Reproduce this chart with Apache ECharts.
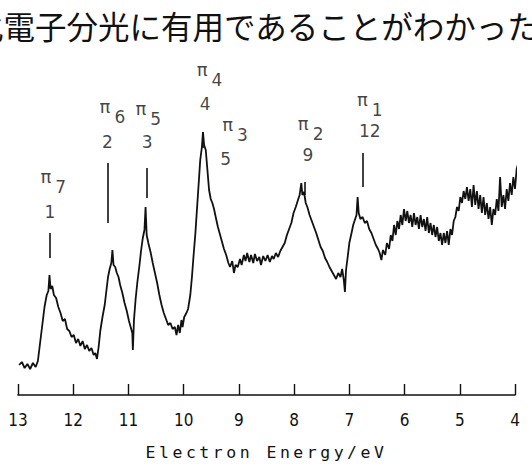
<!DOCTYPE html>
<html>
<head>
<meta charset="utf-8">
<script src="https://cdn.jsdelivr.net/npm/echarts@6/dist/echarts.min.js"></script>
<style>
html,body{margin:0;padding:0;background:#fff;}
#chart{width:532px;height:467px;}
</style>
</head>
<body>
<div id="chart"></div>
<script>
// Axis ticks (eV)
const energyTicks = [13, 12, 11, 10, 9, 8, 7, 6, 5, 4];
const axisTitle = 'Electron Energy/eV';
const headerText = '化電子分光に有用であることがわかった';

// Spectrum: [electron energy (eV), intensity (arb. units)]
const spectrum = [
  [12.98,30],[12.93,33],[12.88,27],[12.83,31],[12.78,26],[12.73,32],[12.68,28],[12.64,34],
  [12.60,52],[12.56,70],[12.52,88],[12.48,100],[12.45,104],[12.43,120],[12.41,106],[12.38,109],
  [12.35,100],[12.31,97],[12.27,88],[12.23,82],[12.19,74],[12.15,76],[12.11,66],[12.07,64],
  [12.03,58],[11.99,60],[11.95,52],[11.91,56],[11.87,49],[11.83,54],[11.79,46],[11.75,50],
  [11.71,44],[11.67,47],[11.63,40],[11.60,42],[11.57,36],[11.54,48],[11.51,64],[11.47,78],
  [11.43,90],[11.40,104],[11.37,118],[11.34,126],[11.31,132],[11.29,145],[11.27,130],[11.24,128],
  [11.21,122],[11.18,118],[11.15,110],[11.11,102],[11.07,92],[11.03,84],[10.99,74],[10.96,68],
  [10.93,62],[10.92,45],[10.90,75],[10.87,96],[10.84,112],[10.80,130],[10.77,145],[10.74,157],
  [10.71,165],[10.69,188],[10.67,160],[10.64,152],[10.60,143],[10.56,132],[10.52,122],[10.48,112],
  [10.44,100],[10.40,90],[10.36,82],[10.32,76],[10.28,70],[10.24,72],[10.20,66],[10.16,68],
  [10.13,60],[10.10,70],[10.07,62],[10.04,75],[10.02,68],[9.99,78],[9.95,82],[9.92,86],
  [9.88,100],[9.85,118],[9.82,140],[9.79,160],[9.76,185],[9.73,210],[9.70,235],[9.67,248],
  [9.65,263],[9.63,250],[9.60,245],[9.57,225],[9.54,205],[9.51,196],[9.48,192],[9.45,186],
  [9.42,178],[9.38,168],[9.35,162],[9.31,154],[9.27,146],[9.23,140],[9.19,132],[9.16,128],
  [9.12,134],[9.09,122],[9.06,130],[9.02,128],[8.98,136],[8.95,130],[8.91,140],[8.88,134],
  [8.85,142],[8.81,133],[8.78,140],[8.74,132],[8.71,141],[8.67,134],[8.63,138],[8.60,130],
  [8.56,139],[8.52,134],[8.48,140],[8.44,133],[8.40,139],[8.37,136],[8.33,142],[8.29,138],
  [8.25,144],[8.21,148],[8.17,152],[8.13,160],[8.09,166],[8.05,172],[8.01,182],[7.97,188],
  [7.93,195],[7.90,200],[7.87,212],[7.85,200],[7.82,203],[7.79,192],[7.76,188],[7.72,180],
  [7.68,174],[7.64,168],[7.60,162],[7.56,155],[7.52,148],[7.48,144],[7.44,137],[7.40,133],
  [7.36,128],[7.32,124],[7.28,120],[7.24,116],[7.20,122],[7.16,118],[7.13,126],[7.10,115],
  [7.08,103],[7.06,125],[7.03,138],[7.00,152],[6.96,162],[6.93,170],[6.90,175],[6.87,180],
  [6.85,198],[6.83,182],[6.80,176],[6.76,178],[6.72,172],[6.68,174],[6.64,166],[6.60,162],
  [6.56,156],[6.52,150],[6.48,146],[6.45,142],[6.42,135],[6.39,145],[6.35,140],[6.32,152],
  [6.28,146],[6.25,160],[6.22,154],[6.19,170],[6.16,160],[6.13,174],[6.10,166],[6.07,180],
  [6.04,170],[6.01,186],[5.98,174],[5.95,184],[5.92,172],[5.89,180],[5.86,168],[5.83,182],
  [5.80,170],[5.77,178],[5.74,166],[5.71,180],[5.68,168],[5.65,176],[5.62,164],[5.59,178],
  [5.56,162],[5.53,172],[5.50,160],[5.47,170],[5.44,158],[5.41,168],[5.38,154],[5.35,162],
  [5.32,150],[5.29,162],[5.26,152],[5.23,164],[5.20,150],[5.17,166],[5.14,160],[5.11,174],
  [5.08,178],[5.05,188],[5.02,184],[4.99,198],[4.96,192],[4.93,204],[4.90,196],[4.87,208],
  [4.84,194],[4.81,206],[4.78,188],[4.75,210],[4.72,190],[4.69,204],[4.66,186],[4.63,200],
  [4.60,182],[4.57,198],[4.54,180],[4.51,192],[4.48,176],[4.45,188],[4.42,170],[4.39,186],
  [4.36,180],[4.33,196],[4.30,184],[4.27,218],[4.24,188],[4.21,200],[4.18,186],[4.15,206],
  [4.12,194],[4.09,212],[4.06,200],[4.03,218],[4.00,206],[3.97,226],[3.94,232],[3.92,248],[3.90,222]
];

// Peak annotations
const peakOrbitals = ['π7', 'π6', 'π5', 'π4', 'π3', 'π2', 'π1'];
const orbitalLabelEnergy = [12.36, 11.29, 10.64, 9.53, 9.07, 7.70, 6.63];
const orbitalLabelLevel = [213.5, 283.5, 281.5, 321, 265.5, 266.5, 290.5];
const peakNumbers = ['1', '2', '3', '4', '5', '9', '12'];
const numberEnergy = [12.42, 11.38, 10.66, 9.61, 9.24, 7.75, 6.63];
const numberLevel = [183, 253.5, 253.5, 291, 236, 240, 264.5];
const markerEnergy = [12.43, 11.38, 10.67, 9.65, null, 7.81, 6.76];
const markerTop = [162, 232, 227, 263, null, 213, 242];
const markerBottom = [137, 172, 197, 247, null, 200, 208];

const INK = '#111';
const chart = echarts.init(document.getElementById('chart'), null, {renderer: 'svg'});

const markerData = [];
markerEnergy.forEach((e, i) => {
  if (e == null) return;
  markerData.push([{coord: [e, markerTop[i]]}, {coord: [e, markerBottom[i]]}]);
});

const option = {
  animation: false,
  backgroundColor: '#fff',
  grid: {left: 18, right: 17, top: 45, bottom: 72},
  xAxis: {
    type: 'value',
    min: 4,
    max: 13,
    interval: 1,
    inverse: true,
    name: axisTitle,
    nameLocation: 'middle',
    nameGap: 49,
    nameTextStyle: {fontFamily: 'DejaVu Sans Mono', fontSize: 16.5, color: INK},
    axisLine: {show: true, lineStyle: {color: INK, width: 1.6}},
    axisTick: {show: true, inside: true, length: 11, lineStyle: {color: INK, width: 1.4}},
    axisLabel: {
      margin: 16,
      fontFamily: "'Liberation Sans Narrow', 'DejaVu Sans Condensed', sans-serif",
      fontSize: 17,
      color: INK,
      formatter: v => energyTicks.indexOf(v) >= 0 ? String(v) : ''
    },
    splitLine: {show: false}
  },
  yAxis: {type: 'value', min: 0, max: 350, show: false},
  graphic: [{
    type: 'text',
    x: -28,
    y: 25,
    style: {
      text: headerText,
      fontFamily: "'Noto Sans CJK JP'",
      fontSize: 31.5,
      fill: INK,
      verticalAlign: 'middle',
      align: 'left'
    }
  }],
  series: [
    {
      type: 'line',
      data: spectrum,
      showSymbol: false,
      symbol: 'none',
      clip: false,
      lineStyle: {color: INK, width: 1.8},
      markLine: {
        silent: true,
        symbol: 'none',
        label: {show: false},
        lineStyle: {color: INK, width: 1.6, type: 'solid'},
        data: markerData
      }
    },
    {
      type: 'scatter',
      symbolSize: 0,
      silent: true,
      data: peakOrbitals.map((n, i) => ({name: n, value: [orbitalLabelEnergy[i], orbitalLabelLevel[i]]})),
      label: {
        show: true,
        position: 'inside',
        formatter: p => '{p|' + p.name.charAt(0) + '}{n|' + p.name.slice(1) + '}',
        rich: {
          p: {fontFamily: 'DejaVu Sans', fontSize: 18, lineHeight: 20, verticalAlign: 'top', color: INK},
          n: {fontFamily: 'DejaVu Sans', fontSize: 17, lineHeight: 28, verticalAlign: 'bottom', color: INK, padding: [0, 0, 0, 4]}
        }
      }
    },
    {
      type: 'scatter',
      symbolSize: 0,
      silent: true,
      data: peakNumbers.map((n, i) => ({name: n, value: [numberEnergy[i], numberLevel[i]]})),
      label: {
        show: true,
        position: 'inside',
        formatter: p => p.name,
        fontFamily: 'DejaVu Sans',
        fontSize: 17,
        color: INK
      }
    }
  ]
};
chart.setOption(option);

function spaceTitle() {
  document.querySelectorAll('#chart text').forEach(t => {
    if (t.textContent === axisTitle) t.setAttribute('letter-spacing', '3.5');
  });
}
chart.on('finished', spaceTitle);
spaceTitle();
setTimeout(spaceTitle, 50);
</script>
</body>
</html>
